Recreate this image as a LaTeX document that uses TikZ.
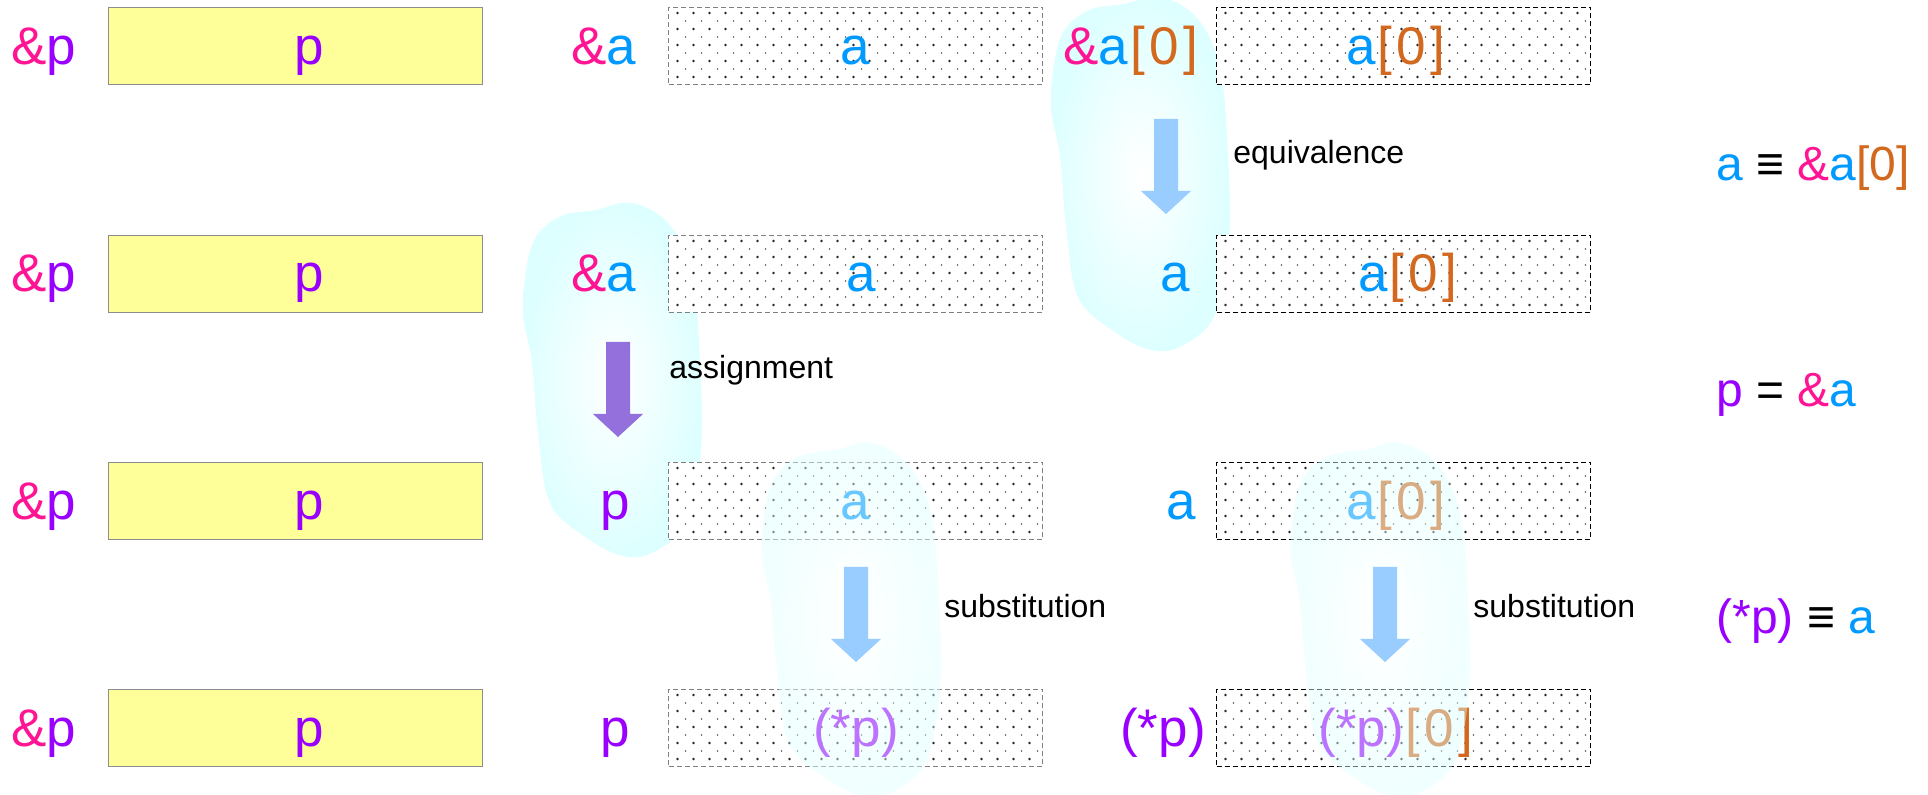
\documentclass[tikz,border=0pt]{standalone}
\usepackage{fontspec}
\setmainfont{Liberation Sans}
\definecolor{pinkc}{HTML}{FF1493}
\definecolor{purplec}{HTML}{9900FF}
\definecolor{bluec}{HTML}{0099FF}
\definecolor{orangec}{HTML}{D2691E}
\definecolor{yfill}{HTML}{FFFF99}
\definecolor{ybord}{HTML}{8C8C8C}
\definecolor{blobc}{HTML}{DDFFFF}
\definecolor{arrblue}{HTML}{99CCFF}
\definecolor{arrpurple}{HTML}{9370DB}
\newcommand\myA{\textcolor{bluec}{a}}
\newcommand\myP{\textcolor{purplec}{p}}
\newcommand\myAmp{\textcolor{pinkc}{\&}}
\newcommand\myZ{\textcolor{orangec}{\kern1pt[\kern2pt0\kern2.5pt]}}
\newcommand\myZn{\textcolor{orangec}{[0]}}
\newcommand\mySP{\textcolor{purplec}{(*p)}}
\newcommand\dotgrid[2]{%
  \foreach \i in {0,...,22} {\foreach \j in {0,...,4} {\fill[dotbig] ({#1+9.5+16*\i},{#2+6+16*\j}) circle (1.3);}}
  \foreach \i in {0,...,22} {\foreach \j in {0,...,3} {\fill[dotsmall] ({#1+17.5+16*\i},{#2+14+16*\j}) circle (0.8);}}
}
\newcommand\downarrowat[3]{%
  \fill[#1] ({#2-12},{#3}) -- ({#2+12},{#3}) -- ({#2+12},{#3+72}) -- ({#2+25},{#3+72}) -- ({#2},{#3+95}) -- ({#2-25},{#3+72}) -- ({#2-12},{#3+72}) -- cycle;}
\tikzset{
  pics/blobpic/.style={code={
    \shade[blobshade,#1] plot[smooth cycle, tension=0.6] coordinates {
      (9,42) (36,14) (73,7) (109,0) (146,21) (169,71) (177,159) (178,247)
      (164,318) (131,349) (100,353) (64,335) (27,300) (15,229) (9,159) (0,106)};
  }}
}
\begin{document}
\begin{tikzpicture}[x=0.5pt,y=-0.5pt,
  big/.style={font=\fontsize{26.5}{30}\selectfont, inner sep=0pt, anchor=base},
  lbl/.style={font=\fontsize{16}{19}\selectfont, inner sep=0pt, anchor=base west},
  frm/.style={font=\fontsize{24}{28}\selectfont, inner sep=0pt, anchor=base west},
  ybox/.style={draw=ybord, fill=yfill, line width=0.6pt, minimum width=187pt, minimum height=38.5pt, inner sep=0pt, anchor=north west},
  dboxa/.style={draw=gray, dash pattern=on 2.5pt off 1.5pt, line width=0.5pt, fill=white, minimum width=187pt, minimum height=38.5pt, inner sep=0pt, anchor=north west},
  dboxb/.style={dboxa, draw=black},
  dotbig/.style={fill=black!85},
  dotsmall/.style={fill=black!65},
  blobshade/.style={shading=radial, inner color=white, outer color=blobc},
  barrow/.style={fill=arrblue},
  parrow/.style={fill=arrpurple},
]
\useasboundingbox (0,0) rectangle (1928,795);

% background blobs
\pic at (1051,-3) {blobpic={}};
\pic at (523,203) {blobpic={}};

% boxes
\foreach \r/\t in {1/7,2/235,3/462,4/689} {
  \node[ybox] (y\r) at (108,\t) {};
  \node[dboxa] (m\r) at (668,\t) {};
  \dotgrid{668}{\t}
  \node[dboxb] (n\r) at (1216,\t) {};
  \dotgrid{1216}{\t}
}

% column 1
\foreach \r/\b in {1/64.5,2/292,3/519.5,4/746.5} {
  \node[big] (pl\r) at (44,\b) {\myAmp\myP};
  \node[big] (pv\r) at (309,\b) {\myP};
}

% column 2
\node[big] (al1) at (604,64.5) {\myAmp\myA};
\node[big] (al2) at (604,292) {\myAmp\myA};
\node[big] (al3) at (615,519.5) {\myP};
\node[big] (al4) at (615,746.5) {\myP};
\node[big] (av1) at (855,64.5) {\myA};
\node[big] (av2) at (861,292) {\myA};
\node[big] (av3) at (855,519.5) {\myA};
\node[big] (av4) at (856,746.5) {\mySP};

% column 3
\node[big] (bl1) at (1131,64.5) {\myAmp\myA\myZ};
\node[big] (bl2) at (1175,292) {\myA};
\node[big] (bl3) at (1181,519.5) {\myA};
\node[big] (bl4) at (1163,746.5) {\mySP};
\node[big] (bv1) at (1396,64.5) {\myA\myZ};
\node[big] (bv2) at (1408,292) {\myA\myZ};
\node[big] (bv3) at (1396,519.5) {\myA\myZ};
\node[big] (bv4) at (1396,746.5) {\mySP\myZ};

% overlay blobs
\pic at (762,443) {blobpic={opacity=0.45}};
\pic at (1291,443) {blobpic={opacity=0.45}};

% arrows
\downarrowat{barrow}{1166}{119}
\downarrowat{parrow}{618}{342}
\downarrowat{barrow}{856}{567}
\downarrowat{barrow}{1385}{567}

\node[lbl] (eq) at (1233,164) {equivalence};
\node[lbl] (as) at (669,379) {assignment};
\node[lbl] (s1) at (944,618) {substitution};
\node[lbl] (s2) at (1473,618) {substitution};

% right formulas
\node[frm] (f1) at (1716,181) {\myA\ ≡ \myAmp\myA\myZn};
\node[frm] (f2) at (1716,407) {\myP\ = \myAmp\myA};
\node[frm] (f3) at (1716,634) {\mySP\ ≡ \myA};
\end{tikzpicture}
\end{document}
